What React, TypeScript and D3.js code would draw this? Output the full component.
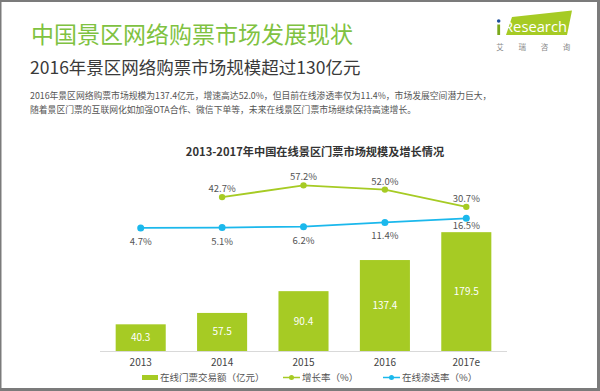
import React from "react";
import * as d3 from "d3";

const years = ["2013", "2014", "2015", "2016", "2017e"];
const volume = [40.3, 57.5, 90.4, 137.4, 179.5];
const growth = [null, 42.7, 57.2, 52.0, 30.7];
const penetration = [4.7, 5.1, 6.2, 11.4, 16.5];
const legendLabels = ["在线门票交易额（亿元）", "增长率（%）", "在线渗透率（%）"];

const W = 600;
const H = 391;
const GREEN = "#a6cb24";
const BLUE = "#1bb8ec";
const FONT = "'Noto Sans CJK SC', 'Noto Sans', sans-serif";

export default function App() {
  const x = d3.scaleBand<string>().domain(years).range([100, 507]);
  const barW = x.bandwidth() * 0.615;
  const cx = (d: string) => (x(d) as number) + x.bandwidth() / 2;

  // bar scale (亿元)
  const yBar = d3.scaleLinear().domain([0, 200]).range([351, 218.6]);
  // both rate lines share one % scale
  const yPct = d3.scaleLinear().domain([0, 60]).range([231.7, 183.1]);

  const growthPts = years.map((y, i) => ({ y, v: growth[i] }));
  const penPts = years.map((y, i) => ({ y, v: penetration[i] }));

  const lineG = d3
    .line<{ y: string; v: number | null }>()
    .defined((d) => d.v != null)
    .x((d) => cx(d.y))
    .y((d) => yPct(d.v as number));

  return (
    <svg
      width={W}
      height={H}
      style={{ position: "absolute", left: 0, top: 0, fontFamily: FONT }}
    >
      {/* frame */}
      <rect x={0} y={0} width={W} height={H} fill="#7b7b7b" />
      <rect x={1.5} y={2} width={W - 4.5} height={H - 5} fill="#fff" />

      {/* header */}
      <text x={31} y={43} fontSize={23} fill="#7fc241">
        中国景区网络购票市场发展现状
      </text>
      <text x={30} y={74} fontSize={17.5} fill="#3a3a3a">
        2016年景区网络购票市场规模超过130亿元
      </text>
      <text x={30} y={98.5} fontSize={8.8} fill="#555">
        2016年景区网络购票市场规模为137.4亿元，增速高达52.0%，但目前在线渗透率仅为11.4%，市场发展空间潜力巨大，
      </text>
      <text x={30} y={112.5} fontSize={8.8} fill="#555">
        随着景区门票的互联网化如加强OTA合作、微信下单等，未来在线景区门票市场继续保持高速增长。
      </text>

      {/* logo */}
      <g>
        <polygon points="512,17 572,10.5 567,35 506,35" fill="#a6cb24" />
        <circle cx={498.7} cy={21} r={1.8} fill="#1d4f9c" />
        <rect x={497.3} y={24.5} width={2.8} height={10.5} fill="#7aa81c" />
        <text
          x={504}
          y={31.5}
          fontSize={14}
          fill="#fff"
          fontFamily="'Open Sans', sans-serif"
          textLength={63}
          lengthAdjust="spacingAndGlyphs"
        >
          Research
        </text>
        {["艾", "瑞", "咨", "询"].map((c, i) => (
          <text key={c} x={500 + i * 22.2} y={49.5} fontSize={7.5} fill="#8a8a8a" textAnchor="middle">
            {c}
          </text>
        ))}
      </g>

      {/* chart title */}
      <text x={315} y={156} fontSize={11.2} fontWeight="bold" fill="#333" textAnchor="middle">
        2013-2017年中国在线景区门票市场规模及增长情况
      </text>

      {/* bars */}
      {years.map((y, i) => (
        <g key={y}>
          <rect
            x={cx(y) - barW / 2}
            y={yBar(volume[i])}
            width={barW}
            height={yBar(0) - yBar(volume[i])}
            fill={GREEN}
          />
          <text
            x={cx(y)}
            y={(yBar(volume[i]) + yBar(0)) / 2 + 3.5}
            fontSize={10}
            fill="#fff"
            textAnchor="middle"
          >
            {volume[i].toFixed(1)}
          </text>
          <text x={cx(y)} y={366} fontSize={10} fill="#444" textAnchor="middle">
            {y}
          </text>
        </g>
      ))}
      <line x1={100} x2={507} y1={351.5} y2={351.5} stroke="#d9d9d9" strokeWidth={1} />

      {/* growth line */}
      <path d={lineG(growthPts) || ""} fill="none" stroke={GREEN} strokeWidth={1.8} />
      {growthPts
        .filter((d) => d.v != null)
        .map((d) => (
          <g key={d.y}>
            <circle cx={cx(d.y)} cy={yPct(d.v as number)} r={3.2} fill={GREEN} />
            <text
              x={cx(d.y)}
              y={yPct(d.v as number) - 5}
              fontSize={9.5}
              fill="#555"
              textAnchor="middle"
            >
              {(d.v as number).toFixed(1)}%
            </text>
          </g>
        ))}

      {/* penetration line */}
      <path d={lineG(penPts) || ""} fill="none" stroke={BLUE} strokeWidth={1.8} />
      {penPts.map((d, i) => (
        <g key={d.y}>
          <circle cx={cx(d.y)} cy={yPct(d.v)} r={3.5} fill={BLUE} />
          <text
            x={cx(d.y)}
            y={yPct(d.v) + (i === penPts.length - 1 ? 11 : 17)}
            fontSize={9.5}
            fill="#555"
            textAnchor="middle"
          >
            {d.v.toFixed(1)}%
          </text>
        </g>
      ))}

      {/* legend */}
      <g fontSize={9.5} fill="#555">
        <rect x={142} y={375} width={16} height={5} fill={GREEN} />
        <text x={160} y={381}>{legendLabels[0]}</text>
        <line x1={283} x2={300} y1={377.5} y2={377.5} stroke={GREEN} strokeWidth={1.5} />
        <circle cx={291.5} cy={377.5} r={2.5} fill={GREEN} />
        <text x={302} y={381}>{legendLabels[1]}</text>
        <line x1={383} x2={400} y1={377.5} y2={377.5} stroke={BLUE} strokeWidth={1.5} />
        <circle cx={391.5} cy={377.5} r={2.5} fill={BLUE} />
        <text x={402} y={381}>{legendLabels[2]}</text>
      </g>
    </svg>
  );
}
